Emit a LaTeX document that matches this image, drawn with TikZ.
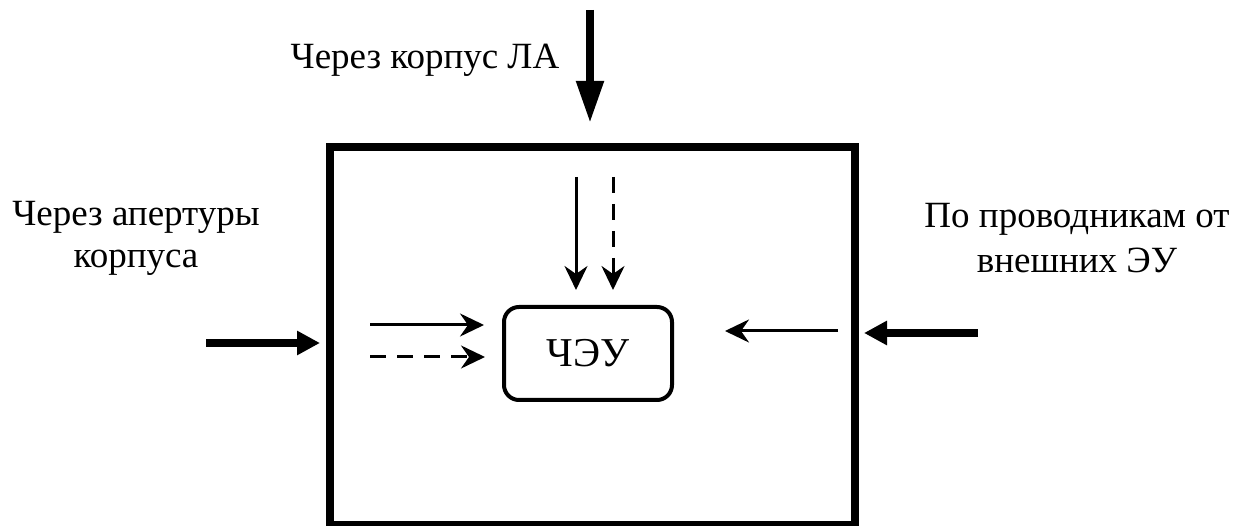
\documentclass[tikz,border=0pt]{standalone}
\usepackage{fontspec}
\setmainfont{Liberation Serif}
\usetikzlibrary{arrows.meta}
\begin{document}
\begin{tikzpicture}[x=1pt,y=-1pt,
  lbl/.style={font=\fontsize{37}{45}\selectfont, align=center, inner sep=0pt},
  bigarrow/.style={line width=8pt, -{Triangle[length=23pt,width=23pt]}},
  toparrow/.style={line width=8pt, -{Triangle[length=42pt,width=26pt]}},
  thinarrow/.style={line width=3pt, -{Stealth[length=24pt,width=23pt,inset=8pt]}},
  dsh/.style={dash pattern=on 16pt off 11pt},
]
\useasboundingbox (0,0) rectangle (1248,526);

% outer enclosure
\node[draw, line width=8pt, inner sep=0pt, outer sep=0pt,
      minimum width=525pt, minimum height=377pt] (frame) at (592.5,336) {};

% sensitive element
\node[draw, line width=4pt, rounded corners=15pt, inner sep=0pt,
      minimum width=168pt, minimum height=93pt,
      font=\fontsize{41}{48}\selectfont] (ceu) at (588,353.5) {ЧЭУ};

% captions
\node[lbl, anchor=base] (tcap) at (425,69) {Через корпус ЛА};
\node[lbl, anchor=base] (lcap1) at (136,226) {Через апертуры};
\node[lbl, anchor=base] (lcap2) at (136,268) {корпуса};
\node[lbl, anchor=base] (rcap1) at (1077,228) {По проводникам от};
\node[lbl, anchor=base] (rcap2) at (1077,273) {внешних ЭУ};

% end points of the outer arrows
\coordinate (topS) at (590,10);
\coordinate (topE) at (590,123);
\coordinate (leftS) at (206,343);
\coordinate (leftE) at (320,343);
\coordinate (rightS) at (978,333);
\coordinate (rightE) at (864,333);

\draw[toparrow] (topS) -- (topE);
\draw[bigarrow] (leftS) -- (leftE);
\draw[bigarrow] (rightS) -- (rightE);

% end points of the inner arrows
\coordinate (v1S) at (576,177);
\coordinate (v1E) at (576,290);
\coordinate (v2S) at (613,177);
\coordinate (v2E) at (613,290);
\coordinate (h1S) at (370,325);
\coordinate (h1E) at (484,325);
\coordinate (h2S) at (370,357);
\coordinate (h2E) at (485,357);
\coordinate (h3S) at (838,331);
\coordinate (h3E) at (725,331);

\draw[thinarrow] (v1S) -- (v1E);
\draw[thinarrow, dsh] (v2S) -- (v2E);
\draw[thinarrow] (h1S) -- (h1E);
\draw[thinarrow, dsh] (h2S) -- (h2E);
\draw[thinarrow] (h3S) -- (h3E);
\end{tikzpicture}
\end{document}
